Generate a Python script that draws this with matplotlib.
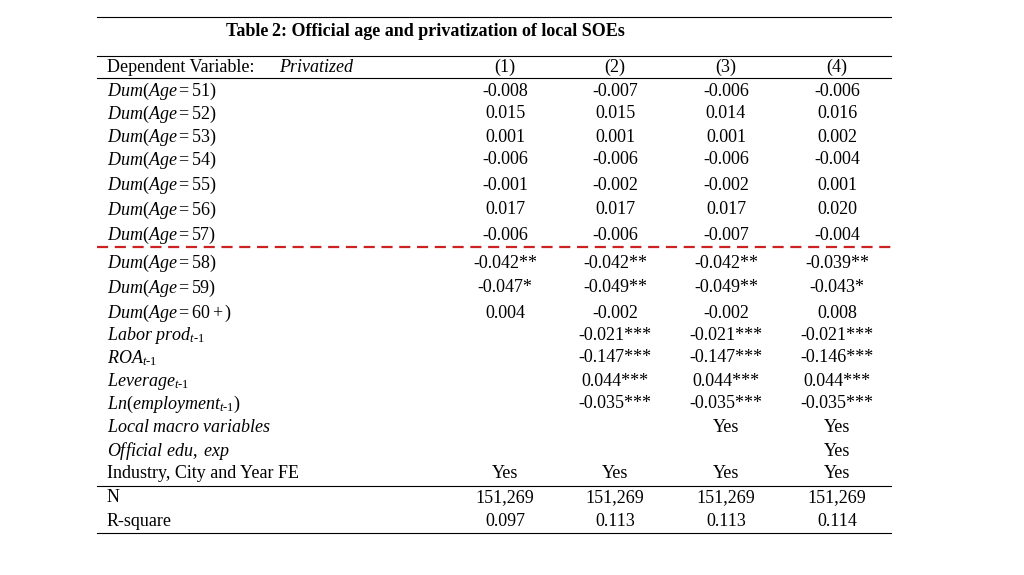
import matplotlib
matplotlib.use("Agg")
import matplotlib.pyplot as plt

plt.rcParams['font.family'] = ['Liberation Serif', 'DejaVu Serif']
plt.rcParams['mathtext.fontset'] = 'custom'
plt.rcParams['mathtext.rm'] = 'Liberation Serif'
plt.rcParams['mathtext.it'] = 'Liberation Serif:italic'

title = "Table\u20092: Official age and privatization of local SOEs"
headers = ["(1)", "(2)", "(3)", "(4)"]
row_labels = [
    r"$\it{Dum(Age{=}51)}$", r"$\it{Dum(Age{=}52)}$", r"$\it{Dum(Age{=}53)}$",
    r"$\it{Dum(Age{=}54)}$", r"$\it{Dum(Age{=}55)}$", r"$\it{Dum(Age{=}56)}$",
    r"$\it{Dum(Age{=}57)}$", r"$\it{Dum(Age{=}58)}$", r"$\it{Dum(Age{=}59)}$",
    r"$\it{Dum(Age{=}60+)}$", r"$\it{Labor\ prod}_{\it{t}\text{-}1}$",
    r"$\it{ROA}_{\it{t}\text{-}1}$", r"$\it{Leverage}_{\it{t}\text{-}1}$",
    r"$\it{Ln(employment}_{\it{t}\text{-}1}\it{)}$",
    r"$\it{Local\ macro\ variables}$", r"$\it{Official\ edu,\ exp}$",
    "Industry, City and Year FE", "N", "R-square",
]
col1 = ["-0.008", "0.015", "0.001", "-0.006", "-0.001", "0.017", "-0.006",
        "-0.042**", "-0.047*", "0.004", "", "", "", "", "", "", "Yes", "151,269", "0.097"]
col2 = ["-0.007", "0.015", "0.001", "-0.006", "-0.002", "0.017", "-0.006",
        "-0.042**", "-0.049**", "-0.002", "-0.021***", "-0.147***", "0.044***", "-0.035***",
        "", "", "Yes", "151,269", "0.113"]
col3 = ["-0.006", "0.014", "0.001", "-0.006", "-0.002", "0.017", "-0.007",
        "-0.042**", "-0.049**", "-0.002", "-0.021***", "-0.147***", "0.044***", "-0.035***",
        "Yes", "", "Yes", "151,269", "0.113"]
col4 = ["-0.006", "0.016", "0.002", "-0.004", "0.001", "0.020", "-0.004",
        "-0.039**", "-0.043*", "0.008", "-0.021***", "-0.146***", "0.044***", "-0.035***",
        "Yes", "Yes", "Yes", "151,269", "0.114"]
row_y = [91, 114, 137, 160, 185, 210, 235, 263, 288, 313, 335, 358, 381, 404,
         428, 451, 474, 498, 521]
col_x = [505, 615, 726, 837]

fig = plt.figure(figsize=(10.24, 5.75), dpi=100)
ax = fig.add_axes([0, 0, 1, 1])
ax.set_xlim(0, 1024)
ax.set_ylim(575, 0)
ax.axis('off')

fs = 13
for y in [17, 56, 78, 486, 533]:
    ax.plot([97, 891], [y, y], color='black', lw=0.8)
ax.plot([97, 891], [247, 247], color='#cc2222', lw=1.6, ls=(0, (5, 3)))

ax.text(425, 31, title, ha='center', va='center', fontsize=fs, fontweight='bold')
ax.text(107, 67, "Dependent Variable: ", ha='left', va='center', fontsize=fs)
ax.text(279, 67, "Privatized", ha='left', va='center', fontsize=fs, style='italic')
for x, h in zip(col_x, headers):
    ax.text(x, 67, h, ha='center', va='center', fontsize=fs)

for i, (lab, y) in enumerate(zip(row_labels, row_y)):
    ax.text(107, y, lab, ha='left', va='center', fontsize=fs)
    for x, col in zip(col_x, [col1, col2, col3, col4]):
        if col[i]:
            ax.text(x, y, col[i], ha='center', va='center', fontsize=fs)

fig.savefig("out.png", dpi=100)
